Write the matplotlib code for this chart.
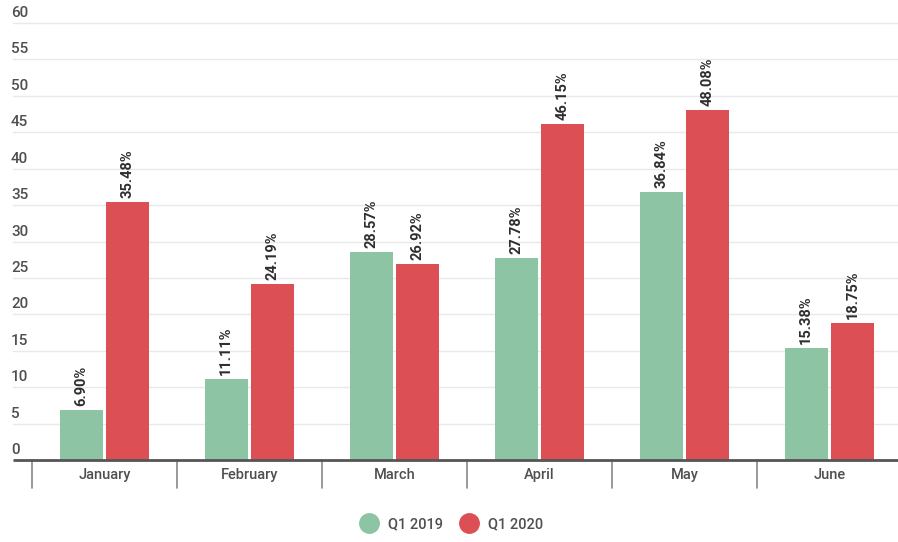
import matplotlib
matplotlib.use("Agg")
import matplotlib.pyplot as plt
from matplotlib.lines import Line2D
import numpy as np

months = ["January", "February", "March", "April", "May", "June"]
q1_2019 = [6.90, 11.11, 28.57, 27.78, 36.84, 15.38]
q1_2020 = [35.48, 24.19, 26.92, 46.15, 48.08, 18.75]
series_names = ["Q1 2019", "Q1 2020"]
y_ticks = [0, 5, 10, 15, 20, 25, 30, 35, 40, 45, 50, 55, 60]

green = "#8cc4a4"
red = "#dc4f55"
text_grey = "#4f4f4f"

plt.rcParams["font.family"] = ["Roboto", "DejaVu Sans"]

W, H = 898, 542
fig = plt.figure(figsize=(W / 100, H / 100), dpi=100)
ax = fig.add_axes([32 / W, 82 / H, 870 / W, 437 / H])

x = np.arange(len(months))
bw = 0.295
off = 0.16
b1 = ax.bar(x - off, q1_2019, bw, color=green, zorder=3)
b2 = ax.bar(x + off, q1_2020, bw, color=red, zorder=3)

for bars, vals in ((b1, q1_2019), (b2, q1_2020)):
    for rect, v in zip(bars, vals):
        ax.annotate(f"{v:.2f}%", (rect.get_x() + rect.get_width() / 2, v),
                    xytext=(0, 4), textcoords="offset pixels",
                    rotation=90, ha="center", va="bottom",
                    fontsize=10.5, fontweight="bold", color="#2e2e2e")

ax.set_xlim(-0.5, len(months) - 0.5)
ax.set_ylim(0, 60)

# horizontal gridlines spanning from the label column, labels sitting on them
x_left = fig.transFigure.transform((13 / W, 0))[0]
x_left = ax.transData.inverted().transform((x_left, 0))[0]
for t in y_ticks[1:]:
    ax.plot([x_left, len(months) - 0.5], [t, t], color="#e9e9e9", lw=1.0,
            zorder=1, clip_on=False)
for t in y_ticks:
    ax.annotate(str(t), (11 / W, t), xycoords=("figure fraction", "data"),
                xytext=(0, 3), textcoords="offset pixels",
                ha="left", va="bottom", fontsize=11, fontweight="medium",
                color=text_grey)

ax.set_yticks([])
ax.set_xticks([])
for s in ax.spines.values():
    s.set_visible(False)

# baseline
ax.plot([x_left, len(months) - 0.5], [0, 0], color="#555555", lw=2, zorder=4,
        clip_on=False, solid_capstyle="butt")

# category separators below the baseline
for b in np.arange(-0.5, len(months)):
    ax.annotate("", xy=(b, 0), xytext=(0, -28), textcoords="offset pixels",
                xycoords="data",
                arrowprops=dict(arrowstyle="-", color="#888888", lw=1.2,
                                shrinkA=0, shrinkB=0))
for i, m in enumerate(months):
    ax.annotate(m, (i, 0), xytext=(0, -15), textcoords="offset pixels",
                ha="center", va="center", fontsize=10.5, fontweight="medium",
                color=text_grey)

handles = [Line2D([], [], marker="o", ls="none", markersize=14,
                  markerfacecolor=c, markeredgecolor=c) for c in (green, red)]
leg = fig.legend(handles, series_names, loc="center",
                 bbox_to_anchor=(0.5, 18 / H), ncol=2, frameon=False,
                 fontsize=10.5, labelcolor=text_grey, handletextpad=0.3,
                 columnspacing=0.8, prop={"weight": "medium", "size": 10.5})

fig.savefig("out.png", dpi=100, facecolor="white")
